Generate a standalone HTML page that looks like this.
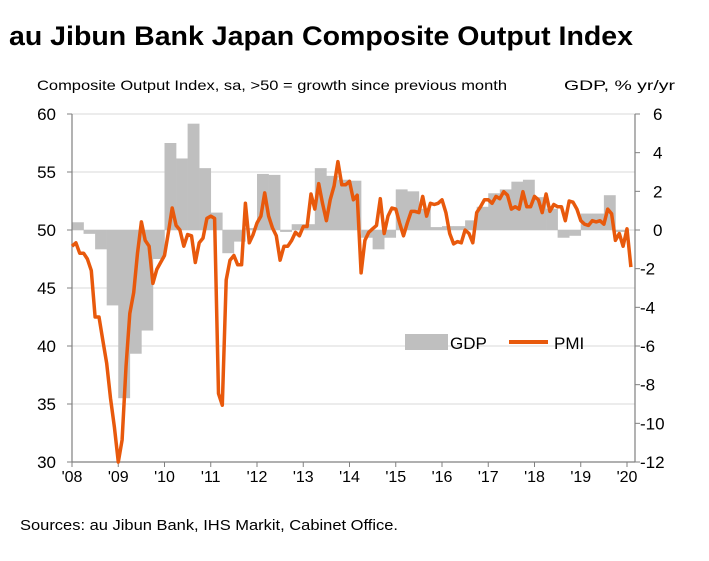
<!DOCTYPE html>
<html><head><meta charset="utf-8"><style>
body{margin:0;background:#fff;width:709px;height:556px;overflow:hidden;font-family:"Liberation Sans",Arial,sans-serif}
svg text{font-family:"Liberation Sans",Arial,sans-serif}
</style></head><body>
<svg id="chart" width="709" height="556" xmlns="http://www.w3.org/2000/svg">
<text x="9" y="45" font-size="27" font-weight="bold" fill="#000" textLength="624" lengthAdjust="spacingAndGlyphs">au Jibun Bank Japan Composite Output Index</text>
<text x="37" y="90" font-size="14" fill="#000" textLength="470" lengthAdjust="spacingAndGlyphs">Composite Output Index, sa, &gt;50 = growth since previous month</text>
<text x="564" y="90" font-size="14" fill="#000" textLength="111" lengthAdjust="spacingAndGlyphs">GDP, % yr/yr</text>
<text x="20" y="530" font-size="15" fill="#000" textLength="378" lengthAdjust="spacingAndGlyphs">Sources: au Jibun Bank, IHS Markit, Cabinet Office.</text>
<g id="grid"></g><g id="bars"></g><g id="axes"></g><g id="line"></g>
<g>
<rect x="405" y="334" width="43" height="16" fill="#bfbfbf"/>
<text x="450" y="349" font-size="17" fill="#000">GDP</text>
<line x1="509" y1="342" x2="548" y2="342" stroke="#e8590c" stroke-width="4"/>
<text x="554" y="349" font-size="17" fill="#000">PMI</text>
</g>
</svg>
<script>
const yearLabels=["'08","'09","'10","'11","'12","'13","'14","'15","'16","'17","'18","'19","'20"];
const leftTicks=[30,35,40,45,50,55,60];
const rightTicks=[-12,-10,-8,-6,-4,-2,0,2,4,6];
const pmi=[48.6,48.9,48.0,48.0,47.5,46.5,42.5,42.5,40.5,38.5,35.5,33.0,
30.0,31.9,38.2,42.8,44.6,48.0,50.7,49.1,48.6,45.4,46.6,47.2,
47.8,49.8,51.9,50.4,50.0,48.6,49.6,49.5,47.2,48.9,49.3,51.0,
51.2,51.0,35.9,34.9,45.7,47.4,47.8,47.0,47.0,52.3,48.9,49.6,
50.6,51.2,53.2,51.2,50.2,49.5,47.4,48.6,48.6,49.1,49.8,49.5,
50.3,50.3,53.1,51.8,54.0,52.3,50.8,52.6,53.8,55.9,53.9,53.9,
54.2,52.6,53.0,46.3,49.1,49.8,50.1,50.4,52.7,49.7,51.2,51.9,
51.8,50.6,49.5,50.6,51.6,51.6,51.5,52.9,51.2,52.3,52.2,52.3,
52.6,51.5,49.7,48.8,49.0,48.9,50.0,49.7,48.9,51.5,52.0,52.6,
52.6,52.3,52.9,52.7,53.3,53.0,51.8,52.0,51.8,53.3,52.0,52.0,
52.9,52.6,51.5,53.1,51.6,52.2,52.0,52.0,50.8,52.5,52.4,51.8,
50.8,50.5,50.4,50.8,50.7,50.8,50.5,51.8,51.4,49.1,49.7,48.6,
50.1,46.8];
const gdp=[0.4,-0.2,-1.0,-3.9,-8.7,-6.4,-5.2,-1.5,4.5,3.7,5.5,3.2,0.9,-1.2,-0.6,0.1,
2.9,2.85,-0.1,0.3,0.3,3.2,2.8,2.6,2.55,-0.4,-1.0,-0.4,2.1,2.0,1.1,0.15,
0.2,0.2,0.5,1.2,1.9,2.1,2.5,2.6,1.7,1.1,-0.4,-0.3,0.85,0.85,1.8,-0.1];
const X0=72,YW=46.25,MW=YW/12;
const xm=i=>X0+i*MW;
const yl=v=>462-(v-30)*(348/30);
const yr=v=>462-(v+12)*(348/18);
const NS="http://www.w3.org/2000/svg";
function mk(t,a,p){const e=document.createElementNS(NS,t);for(const k in a)e.setAttribute(k,a[k]);document.getElementById(p).appendChild(e);return e;}
leftTicks.forEach(v=>{
 if(v!==30){const g=mk('line',{x1:72,x2:635,y1:yl(v),y2:yl(v),stroke:'#d9d9d9','stroke-width':1},'grid');
 
 }
 const t=mk('line',{x1:67,x2:72,y1:yl(v),y2:yl(v),stroke:'#808080'},'axes');
 
 
 const l=mk('text',{x:56,y:yl(v)+6,'font-size':17,'text-anchor':'end',fill:'#000'},'axes');
 l.textContent=v;
 
 
});
rightTicks.forEach(v=>{
 const t=mk('line',{x1:635,x2:640,y1:yr(v),y2:yr(v),stroke:'#808080'},'axes');
 
 
 const l=mk('text',{x:v<0?640:653,y:yr(v)+6,'font-size':17,fill:'#000'},'axes');
 l.textContent=v;
 
 
});
yearLabels.forEach((s,i)=>{
 const x=X0+i*YW;
 const t=mk('line',{x1:x,x2:x,y1:462,y2:467,stroke:'#808080'},'axes');
 
 
 const l=mk('text',{x:x,y:482,'font-size':16,'text-anchor':'middle',fill:'#000'},'axes');
 l.textContent=s;
 
 
});
[[72,114,72,462],[635,114,635,462],[72,462,635,462]].forEach((c,i)=>{
 const a=mk('line',{x1:c[0],y1:c[1],x2:c[2],y2:c[3],stroke:'#808080','stroke-width':1.2},'axes');
 
 
});
gdp.forEach((v,q)=>{
 const x1=xm(q*3),x2=xm(q*3+3),y0=yr(0),y=yr(v);
 const b=mk('rect',{x:x1,width:x2-x1+0.3,y:Math.min(y0,y),height:Math.max(0.8,Math.abs(y-y0)),fill:'#bfbfbf'},'bars');
 
 
});
let d='';
pmi.forEach((v,i)=>{d+=(i?'L':'M')+xm(i).toFixed(1)+','+yl(v).toFixed(1);});
const p=mk('path',{d:d,fill:'none',stroke:'#e8590c','stroke-width':3.5,'stroke-linejoin':'round'},'line');


</script>
</body></html>
